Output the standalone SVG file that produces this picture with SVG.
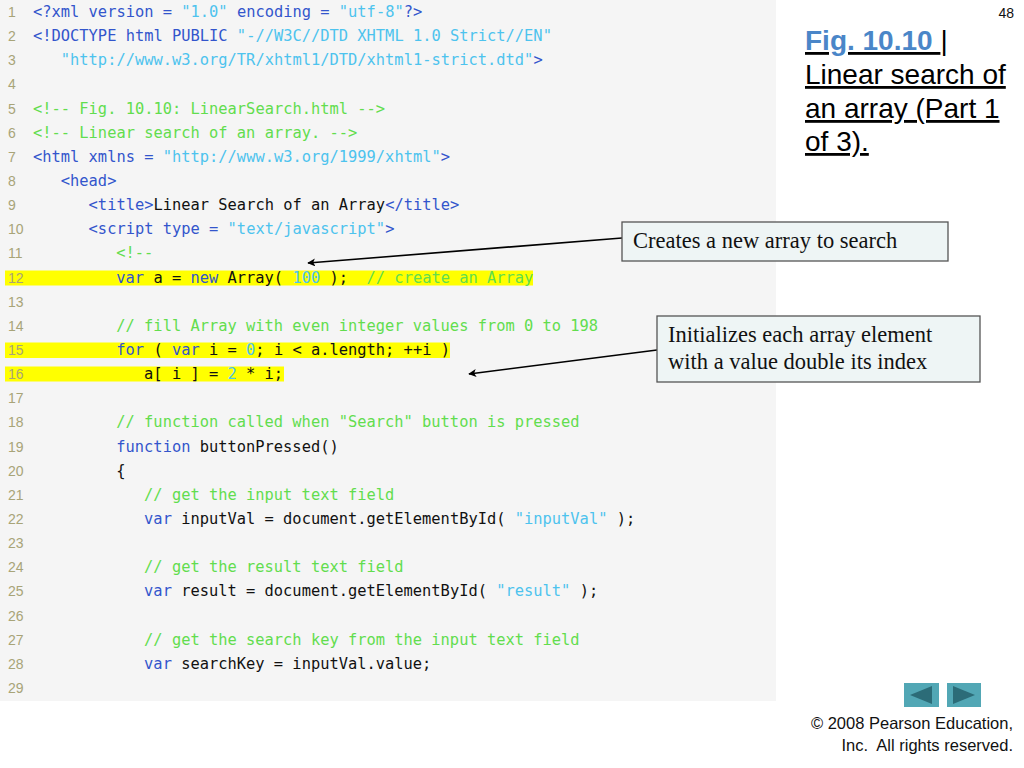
<svg xmlns="http://www.w3.org/2000/svg" width="1024" height="768" viewBox="0 0 1024 768">
<defs>
<style>
.code{font-family:"DejaVu Sans Mono","Liberation Mono",monospace;font-size:15.4px;fill:#111111;white-space:pre;}
.ln{font-family:"Liberation Sans",Arial,sans-serif;font-size:14px;fill:#a8a478;}
.k{fill:#3355cc;}
.s{fill:#4dc3ee;}
.c{fill:#62dd4e;}
.hl{fill:#ffff00;}
.box{fill:#eef5f5;stroke:#555555;stroke-width:1.3;}
.ct{font-family:"Liberation Serif","Times New Roman",serif;font-size:22.5px;fill:#111111;}
.conn{stroke:#000000;stroke-width:1.6;fill:none;marker-end:url(#arr);}
.ttl{font-family:"Liberation Sans",Arial,sans-serif;font-size:28px;fill:#000000;text-decoration:underline;}
.foot{font-family:"Liberation Sans",Arial,sans-serif;font-size:16.5px;fill:#111111;white-space:pre;}
</style>
<marker id="arr" viewBox="0 0 10 10" refX="9" refY="5" markerWidth="8" markerHeight="8" orient="auto-start-reverse" markerUnits="userSpaceOnUse">
<path d="M0,0 L10,5 L0,10 L2.5,5 z" fill="#000000"/>
</marker>
</defs>
<rect x="0" y="0" width="1024" height="768" fill="#ffffff"/>
<rect x="0" y="0" width="776" height="701" fill="#f5f5f5"/>
<g id="highlights">
<rect class="hl" x="5" y="270.5" width="528" height="15"/>
<rect class="hl" x="5" y="342.5" width="445" height="15.5"/>
<rect class="hl" x="5" y="366.5" width="279" height="15"/>
</g>
<g id="line-numbers" class="ln">
<text x="8" y="17">1</text>
<text x="8" y="41.1">2</text>
<text x="8" y="65.3">3</text>
<text x="8" y="89.4">4</text>
<text x="8" y="113.6">5</text>
<text x="8" y="137.7">6</text>
<text x="8" y="161.9">7</text>
<text x="8" y="186">8</text>
<text x="8" y="210.1">9</text>
<text x="8" y="234.3">10</text>
<text x="8" y="258.4">11</text>
<text x="8" y="282.6">12</text>
<text x="8" y="306.7">13</text>
<text x="8" y="330.9">14</text>
<text x="8" y="355">15</text>
<text x="8" y="379.1">16</text>
<text x="8" y="403.3">17</text>
<text x="8" y="427.4">18</text>
<text x="8" y="451.6">19</text>
<text x="8" y="475.7">20</text>
<text x="8" y="499.9">21</text>
<text x="8" y="524">22</text>
<text x="8" y="548.1">23</text>
<text x="8" y="572.3">24</text>
<text x="8" y="596.4">25</text>
<text x="8" y="620.6">26</text>
<text x="8" y="644.7">27</text>
<text x="8" y="668.9">28</text>
<text x="8" y="693">29</text>
</g>
<g id="code" class="code">
<text x="33" y="17"><tspan class="k">&lt;?xml version = </tspan><tspan class="s">"1.0"</tspan><tspan class="k"> encoding = </tspan><tspan class="s">"utf-8"</tspan><tspan class="k">?&gt;</tspan></text>
<text x="33" y="41.1"><tspan class="k">&lt;!DOCTYPE html PUBLIC </tspan><tspan class="s">"-//W3C//DTD XHTML 1.0 Strict//EN"</tspan></text>
<text x="60.8" y="65.3"><tspan class="s">"http://www.w3.org/TR/xhtml1/DTD/xhtml1-strict.dtd"</tspan><tspan class="k">&gt;</tspan></text>
<text x="33" y="113.6"><tspan class="c">&lt;!-- Fig. 10.10: LinearSearch.html --&gt;</tspan></text>
<text x="33" y="137.7"><tspan class="c">&lt;!-- Linear search of an array. --&gt;</tspan></text>
<text x="33" y="161.9"><tspan class="k">&lt;html xmlns = </tspan><tspan class="s">"http://www.w3.org/1999/xhtml"</tspan><tspan class="k">&gt;</tspan></text>
<text x="60.8" y="186"><tspan class="k">&lt;head&gt;</tspan></text>
<text x="88.6" y="210.1"><tspan class="k">&lt;title&gt;</tspan>Linear Search of an Array<tspan class="k">&lt;/title&gt;</tspan></text>
<text x="88.6" y="234.3"><tspan class="k">&lt;script type = </tspan><tspan class="s">"text/javascript"</tspan><tspan class="k">&gt;</tspan></text>
<text x="116.3" y="258.4"><tspan class="c">&lt;!--</tspan></text>
<text x="116.3" y="282.6"><tspan class="k">var</tspan> a = <tspan class="k">new</tspan> Array( <tspan class="s">100</tspan> );&#160; <tspan class="c">// create an Array</tspan></text>
<text x="116.3" y="330.9"><tspan class="c">// fill Array with even integer values from 0 to 198</tspan></text>
<text x="116.3" y="355"><tspan class="k">for</tspan> ( <tspan class="k">var</tspan> i = <tspan class="s">0</tspan>; i &lt; a.length; ++i )</text>
<text x="144.1" y="379.1">a[ i ] = <tspan class="s">2</tspan> * i;</text>
<text x="116.3" y="427.4"><tspan class="c">// function called when "Search" button is pressed</tspan></text>
<text x="116.3" y="451.6"><tspan class="k">function</tspan> buttonPressed()</text>
<text x="116.3" y="475.7">{</text>
<text x="144.1" y="499.9"><tspan class="c">// get the input text field</tspan></text>
<text x="144.1" y="524"><tspan class="k">var</tspan> inputVal = document.getElementById( <tspan class="s">"inputVal"</tspan> );</text>
<text x="144.1" y="572.3"><tspan class="c">// get the result text field</tspan></text>
<text x="144.1" y="596.4"><tspan class="k">var</tspan> result = document.getElementById( <tspan class="s">"result"</tspan> );</text>
<text x="144.1" y="644.7"><tspan class="c">// get the search key from the input text field</tspan></text>
<text x="144.1" y="668.9"><tspan class="k">var</tspan> searchKey = inputVal.value;</text>
</g>
<g id="connectors">
<line class="conn" x1="622" y1="238" x2="308" y2="263"/>
<line class="conn" x1="657" y1="350" x2="469" y2="374"/>
</g>
<g id="callout-create">
<rect class="box" x="622" y="222" width="326" height="39"/>
<text class="ct" x="633" y="248">Creates a new array to search</text>
</g>
<g id="callout-init">
<rect class="box" x="657" y="316" width="323" height="66"/>
<text class="ct" x="668" y="342">Initializes each array element</text>
<text class="ct" x="668" y="369">with a value double its index</text>
</g>
<g id="title">
<text class="ttl" x="805" y="50"><tspan font-weight="bold" fill="#4a86c8">Fig. 10.10 </tspan><tspan>|</tspan></text>
<text class="ttl" x="805" y="84">Linear search of</text>
<text class="ttl" x="805" y="118">an array (Part 1</text>
<text class="ttl" x="805" y="151">of 3).</text>
</g>
<text x="1014" y="18" text-anchor="end" font-family="Liberation Sans, Arial, sans-serif" font-size="14" fill="#111111">48</text>
<g id="nav">
<rect x="904" y="683" width="35" height="24" fill="#52a7b5"/>
<path d="M910,695 L932,686 L932,704 z" fill="#2c6c78"/>
<rect x="947" y="683" width="34" height="24" fill="#52a7b5"/>
<path d="M975,695 L953,686 L953,704 z" fill="#2c6c78"/>
</g>
<g id="footer" class="foot">
<text x="1013" y="729" text-anchor="end">© 2008 Pearson Education,</text>
<text x="1013" y="751" text-anchor="end">Inc.&#160; All rights reserved.</text>
</g>
</svg>
